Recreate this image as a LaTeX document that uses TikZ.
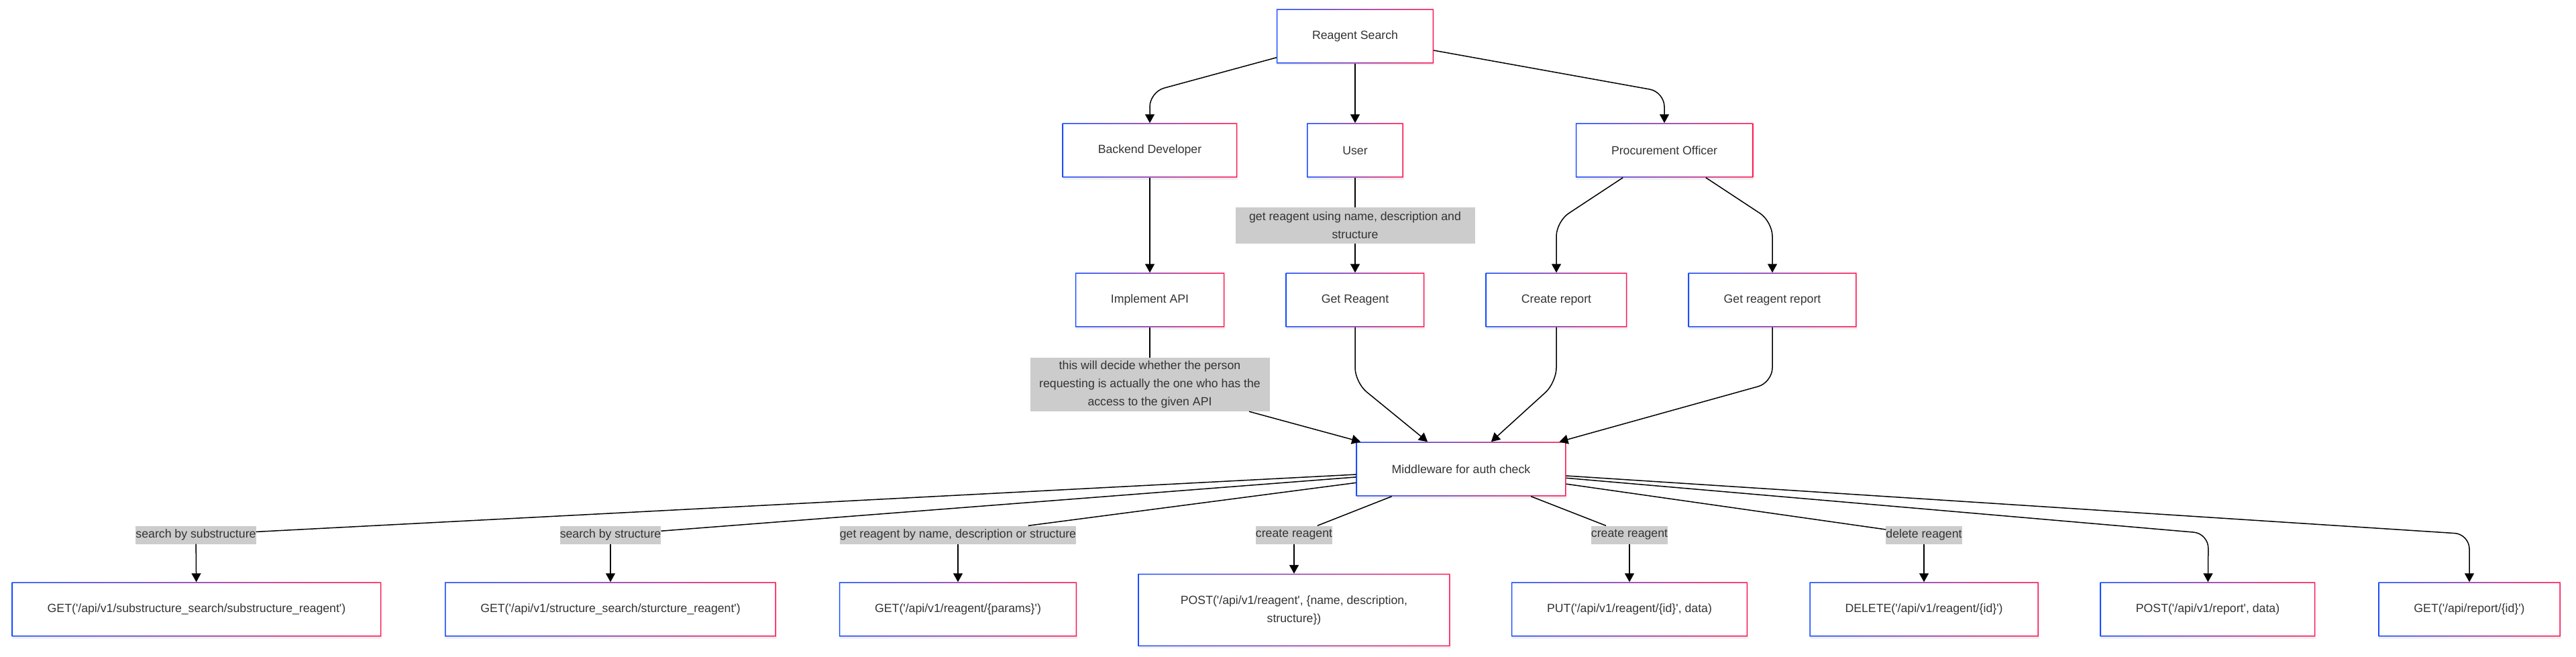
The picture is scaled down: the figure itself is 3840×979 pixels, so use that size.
\documentclass[tikz,border=0pt]{standalone}
\usepackage{fontspec}
\setmainfont{Liberation Sans}
\usetikzlibrary{arrows.meta,shadows}
\definecolor{mblue}{HTML}{1A4DFF}
\definecolor{mred}{HTML}{FF1A55}
\definecolor{mtext}{HTML}{333333}
\newcommand{\qt}{\textquotesingle}
\begin{document}
\begin{tikzpicture}[x=1pt,y=-1pt,
  box/.style={rectangle,fill=white,minimum height=81pt,inner xsep=53pt,inner ysep=0pt,
    text=mtext,font=\fontsize{17.7}{27}\selectfont,align=center,
    drop shadow={shadow xshift=1pt,shadow yshift=-3pt,opacity=0.12}},
  lbl/.style={rectangle,fill=gray!40,inner sep=0pt,minimum height=27pt,
    text=mtext,font=\fontsize{17.7}{27}\selectfont,align=center},
  edge/.style={line width=1.5pt,rounded corners=22pt},
  arr/.style={edge,-{Triangle[length=13pt,width=14pt]}}]
\useasboundingbox (0,0) rectangle (3840,979);

\node[box] (tRS) at (2020,54) {Reagent Search};

\node[box] (tBD) at (1714,224) {Backend Developer};
\node[box] (tU) at (2020,224) {User};
\node[box] (tPO) at (2481,224) {Procurement Officer};

  \node[lbl,minimum width=357pt,minimum height=54pt] (lU) at (2020,336) {get reagent using name, description and\\structure};

\node[box] (tIA) at (1714,447) {Implement API};
\node[box] (tGR) at (2020,447) {Get Reagent};
\node[box] (tCR) at (2320,447) {Create report};
\node[box] (tGRR) at (2642,447) {Get reagent report};

  \node[lbl,minimum width=357pt,minimum height=80pt] (lIA) at (1714,573) {this will decide whether the person\\requesting is actually the one who has the\\access to the given API};

\node[box] (tMW) at (2178,699) {Middleware for auth check};

% labels on the edges out of the middleware
  \node[lbl] (lA) at (292,797) {search by substructure};
  \node[lbl] (lB) at (910,797) {search by structure};
  \node[lbl] (lC) at (1428,797) {get reagent by name, description or structure};
  \node[lbl] (lD) at (1929,797) {create reagent};
  \node[lbl] (lE) at (2429,797) {create reagent};
  \node[lbl] (lF) at (2868,797) {delete reagent};

\node[box] (tA) at (293,908) {GET(\qt/api/v1/substructure\_search/substructure\_reagent\qt)};
\node[box] (tB) at (910,908) {GET(\qt/api/v1/structure\_search/sturcture\_reagent\qt)};
\node[box] (tC) at (1428,908) {GET(\qt/api/v1/reagent/\{params\}\qt)};
\node[box,minimum width=465pt,minimum height=108pt] (tD) at (1929,909) {POST(\qt/api/v1/reagent\qt, \{name, description,\\structure\})};
\node[box] (tE) at (2429,908) {PUT(\qt/api/v1/reagent/\{id\}\qt, data)};
\node[box] (tF) at (2868,908) {DELETE(\qt/api/v1/reagent/\{id\}\qt)};
\node[box] (tG) at (3291,908) {POST(\qt/api/v1/report\qt, data)};
\node[box] (tH) at (3681,908) {GET(\qt/api/report/\{id\}\qt)};

% blue to red frames
\foreach \n in {tRS,tBD,tU,tPO,tIA,tGR,tCR,tGRR,tMW,tA,tB,tC,tD,tE,tF,tG,tH}
  \shade[left color=mblue,right color=mred,even odd rule]
    (\n.north west) rectangle (\n.south east)
    ([shift={(1.5,1.5)}]\n.north west) rectangle ([shift={(-1.5,-1.5)}]\n.south east);

\draw[arr] (tRS) -- (1714,137) -- (tBD);
\draw[arr] (tRS) -- (tU);
\draw[arr] (tRS) -- (2481,137) -- (tPO);

\draw[arr] (tBD) -- (tIA);
\draw[edge] (tU) -- (lU);
  \draw[arr] (lU) -- (tGR);
\draw[arr] (tPO) -- (2320,330) -- (tCR);
\draw[arr] (tPO) -- (2642,330) -- (tGRR);

\draw[edge] (tIA) -- (lIA);
  \draw[arr] (lIA) -- (tMW);
\draw[arr] (tGR) -- (2020,570) -- (tMW);
\draw[arr] (tCR) -- (2320,570) -- (tMW);
\draw[arr] (tGRR) -- (2642,570) -- (tMW);

\draw[edge] (tMW) -- (lA);
  \draw[arr] (lA) -- (tA);
\draw[edge] (tMW) -- (lB);
  \draw[arr] (lB) -- (tB);
\draw[edge] (tMW) -- (lC);
  \draw[arr] (lC) -- (tC);
\draw[edge] (tMW) -- (lD);
  \draw[arr] (lD) -- (tD);
\draw[edge] (tMW) -- (lE);
  \draw[arr] (lE) -- (tE);
\draw[edge] (tMW) -- (lF);
  \draw[arr] (lF) -- (tF);
\draw[arr] (tMW) -- (3292,795) -- (tG);
\draw[arr] (tMW) -- (3681,796) -- (tH);

\end{tikzpicture}
\end{document}
